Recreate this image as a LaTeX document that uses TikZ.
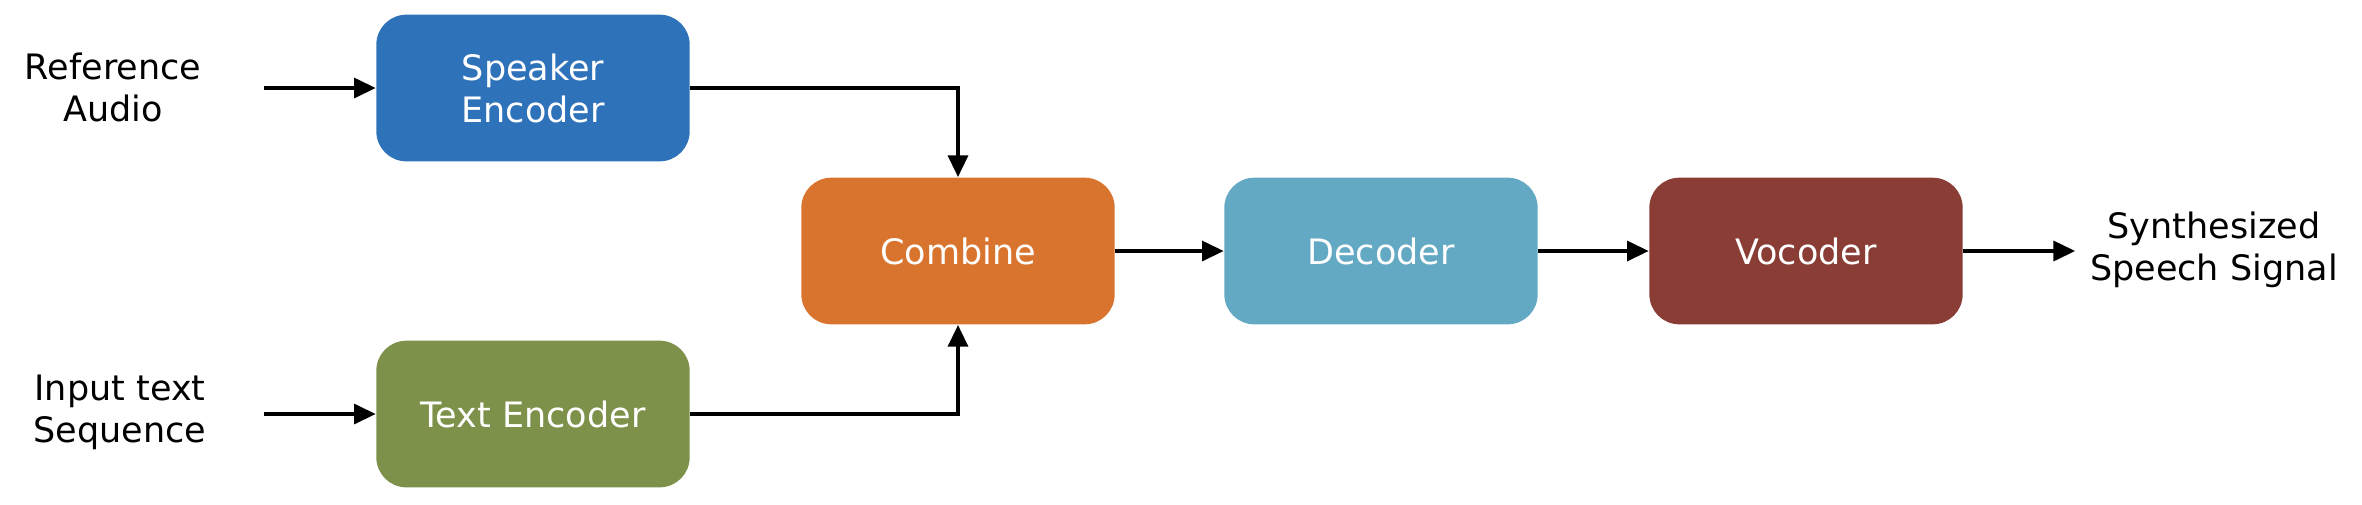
\documentclass[tikz,border=0pt]{standalone}
\usepackage{fontspec}
\setmainfont{DejaVu Sans}
\usepackage{tikz}
\usetikzlibrary{arrows.meta,positioning}
\definecolor{azulspk}{HTML}{2E72BA}
\definecolor{verdetxt}{HTML}{7E914A}
\definecolor{naranja}{HTML}{D9742F}
\definecolor{celeste}{HTML}{63A9C3}
\definecolor{granate}{HTML}{8A3D35}
\tikzstyle{bloque} = [rectangle, rounded corners=9pt, minimum width=94pt, minimum height=44pt, text=white, align=center, font=\fontsize{10.5}{12.6}\selectfont]
\tikzstyle{etiqueta} = [align=center, font=\fontsize{10.5}{12.6}\selectfont]
\tikzstyle{flecha} = [line width=1pt, -{Triangle[length=6.5pt,width=6pt]}]

\begin{document}
\begin{tikzpicture}[x=0.3pt, y=-0.3pt]
		\useasboundingbox (0,0) rectangle (2362,504);
		\node[bloque, fill=azulspk](spk) at (533,88) {Speaker\\Encoder};
		\node[bloque, fill=verdetxt](txt) at (533,414) {Text Encoder};
		\node[bloque, fill=naranja](comb) at (958,251) {Combine};
		\node[bloque, fill=celeste](dec) at (1381,251) {Decoder};
		\node[bloque, fill=granate](voc) at (1806,251) {Vocoder};
		\node[etiqueta](ref) at (113,87) {Reference\\Audio};
		\node[etiqueta](inp) at (120,412) {Input text\\Sequence};
		\node[etiqueta](out) at (2214,250) {Synthesized\\Speech Signal};

		\draw[flecha] ([xshift=15.4pt]ref.east |- spk.west) -- (spk.west);
		\draw[flecha] ([xshift=13.7pt]inp.east |- txt.west) -- (txt.west);
		\draw[flecha] (spk.east) -| (comb.north);
		\draw[flecha] (txt.east) -| (comb.south);
		\draw[flecha] (comb) -- (dec);
		\draw[flecha] (dec) -- (voc);
		\draw[flecha] (voc.east) -- ([xshift=-1pt]out.west |- voc.east);
	\end{tikzpicture}
\end{document}
